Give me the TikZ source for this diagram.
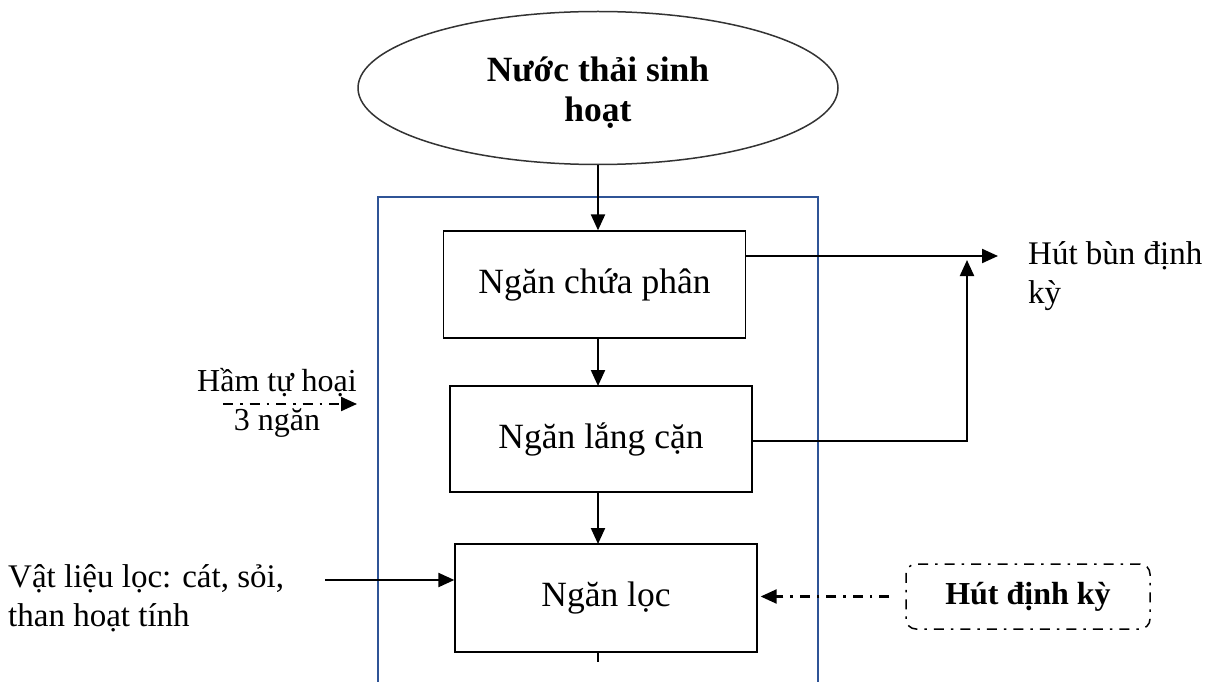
\documentclass[tikz,border=0pt]{standalone}
\usepackage{fontspec}
\setmainfont{Liberation Serif}
\usetikzlibrary{shapes.geometric,arrows.meta}
\definecolor{frameblue}{RGB}{47,84,150}
\tikzset{
  stage/.style={draw=black, line width=1.3pt, minimum width=302pt, minimum height=107pt, inner sep=0pt,
                font=\fontsize{35.5}{40}\selectfont},
  flow/.style={line width=2.2pt, -{Triangle[length=16pt,width=14pt]}},
  dashflow/.style={line width=2.2pt, dash pattern=on 10pt off 7pt on 2.5pt off 7pt, -{Triangle[length=16pt,width=14pt]}},
  lbl/.style={inner sep=0pt, font=\fontsize{32}{39}\selectfont},
  lblb/.style={inner sep=0pt, font=\fontsize{33}{39}\selectfont},
}
\begin{document}
\begin{tikzpicture}[x=1pt,y=-1pt]
\useasboundingbox (0,0) rectangle (1216,682);
\clip (0,0) rectangle (1216,682);
% outer frame
\draw[frameblue, line width=2.5pt] (378,720) -- (378,197) -- (818,197) -- (818,720);
% source ellipse
\node[ellipse, draw=black!80, line width=1.5pt, minimum width=480pt, minimum height=153pt, inner sep=0pt] (src) at (598,88) {};
\node[inner sep=0pt, align=center, font=\fontsize{35.5}{40}\selectfont\bfseries] (srctext) at (598,93) {Nước thải sinh\\hoạt};
% stages
\node[stage] (b1) at (594.5,284.5) {Ngăn chứa phân};
\node[stage, minimum height=106pt] (b2) at (601,439) {Ngăn lắng cặn};
\node[stage, minimum height=108pt] (b3) at (606,598) {Ngăn lọc};
% vertical flow
\draw[flow] (src.south) -- (src.south |- b1.north);
\draw[flow] (598,338) -- (598,386);
\draw[flow] (598,492) -- (598,544);
\coordinate (tail) at (598,662);
\draw[line width=2pt] (598,652) -- (tail);
% sludge removal
\node[lblb, anchor=west, align=left] (sludge) at (1028,276) {Hút bùn định\\kỳ};
\coordinate (sl) at (998,256);
\coordinate (corner) at (967,441);
\coordinate (up) at (967,260);
\draw[flow] (b1.east |- sl) -- (sl);
\draw[flow] (b2.east |- corner) -- (corner) -- (up);
% septic label
\node[lbl, align=center] (septic) at (277,403) {Hầm tự hoại\\3 ngăn};
\coordinate (sa) at (223,404);
\coordinate (sb) at (357,404);
\draw[dashflow] (sa) -- (sb);
% filter material
\node[lblb, anchor=west, align=left] (mat) at (8,598) {Vật liệu lọc: cát, sỏi,\\than hoạt tính};
\coordinate (ma) at (325,580);
\draw[flow] (ma) -- (b3.west |- ma);
% periodic suction
\node[draw=black, line width=1.5pt, rounded corners=10pt, dash pattern=on 10pt off 7pt on 2.5pt off 7pt,
      minimum width=244pt, minimum height=65pt, inner sep=0pt,
      font=\fontsize{32}{39}\selectfont\bfseries] (hd) at (1028,596.5) {Hút định kỳ};
\draw[dashflow, shorten <=16pt, shorten >=3pt] (hd.west) -- (b3.east |- hd.west);
\end{tikzpicture}
\end{document}
